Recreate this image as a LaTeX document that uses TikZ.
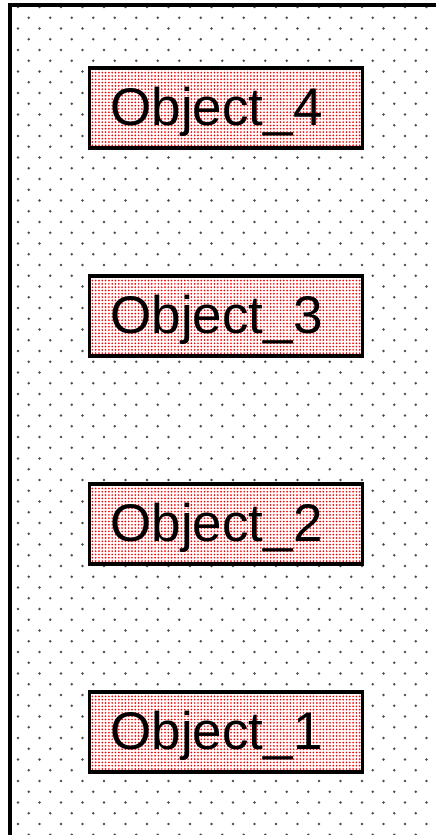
\documentclass[tikz,border=0pt]{standalone}
\usepackage{fontspec}
\setmainfont{Liberation Sans}
\usetikzlibrary{patterns}
\pgfdeclarepatternformonly{reddots}{\pgfqpoint{-1pt}{-1pt}}{\pgfqpoint{2.3pt}{2.3pt}}{\pgfqpoint{3.3pt}{3.3pt}}{%
  \pgfpathcircle{\pgfqpoint{0pt}{0pt}}{0.95pt}%
  \pgfusepath{fill}%
}
\begin{document}
\begin{tikzpicture}[x=1pt,y=-1pt,
  bgdot/.style={fill=black!70},
  frameline/.style={draw=black,line width=3.5pt},
  objbox/.style={draw=black,line width=3.5pt,
    preaction={fill=white},
    pattern=reddots,pattern color=red,
    minimum width=273pt,minimum height=80pt,
    text width=231pt,align=left,inner xsep=21pt,inner ysep=0pt,
    text height=57pt,text depth=23pt,
    font=\fontsize{53}{60}\selectfont}]
\useasboundingbox (0,0) rectangle (436,835);
\begin{scope}
\clip (0,0) rectangle (436,835);
\foreach \k in {0,...,77} {
  \pgfmathsetmacro\yy{7+10.75*\k}
  \pgfmathsetmacro\xo{mod(\k,2)==0 ? 18 : 28.75}
  \foreach \i in {0,...,19} {
    \fill[bgdot] (\xo+21.5*\i,\yy) circle (1.3pt);
  }
}
\draw[frameline] (10,900) -- (10,5) -- (500,5);
\end{scope}
\node[objbox] (obj4) at (226,108) {Object\_4};
\node[objbox] (obj3) at (226,316) {Object\_3};
\node[objbox] (obj2) at (226,524) {Object\_2};
\node[objbox] (obj1) at (226,732) {Object\_1};
\end{tikzpicture}
\end{document}
